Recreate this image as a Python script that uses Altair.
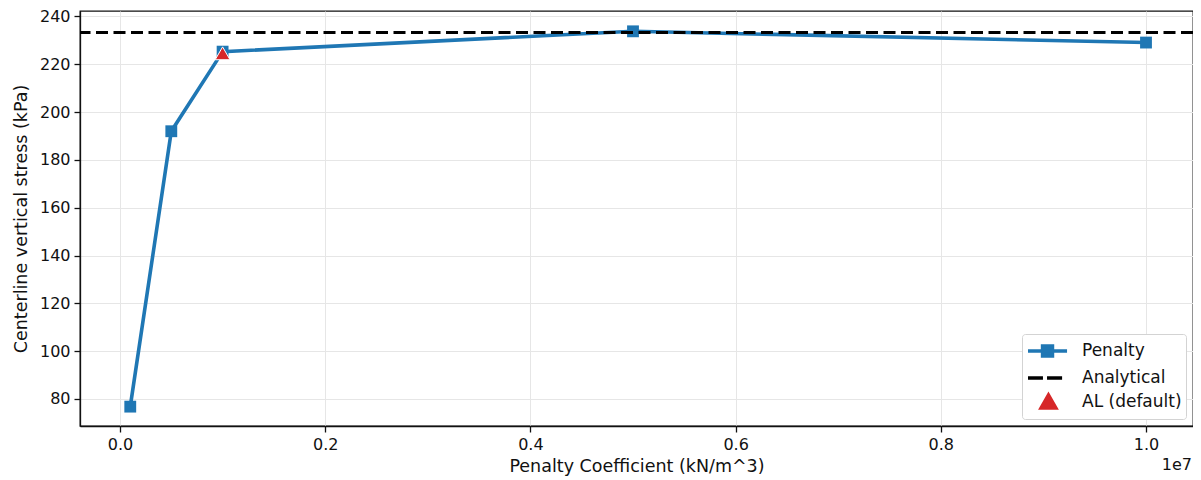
import altair as alt
import pandas as pd

# Data
penalty_x = [1e5, 5e5, 1e6, 5e6, 1e7]
penalty_y = [76.8, 192.0, 225.3, 233.8, 229.1]
analytical_y = [233.3]
al_x = [1e6]
al_y = [224.6]
series_names = ["Penalty", "Analytical", "AL (default)"]
series_colors = ["#1f77b4", "#000000", "#d62728"]
x_ticks = [0, 2e6, 4e6, 6e6, 8e6, 1e7]
y_ticks = [80, 100, 120, 140, 160, 180, 200, 220, 240]

W, H = 1113, 415
FONT = "DejaVu Sans"
FS = 16
TFS = 17.5
TXT = "#111111"

pen_df = pd.DataFrame({"x": penalty_x, "y": penalty_y, "series": "Penalty"})
ana_df = pd.DataFrame({"y": analytical_y, "series": "Analytical"})
al_df = pd.DataFrame({"x": al_x, "y": al_y, "series": "AL (default)"})

xscale = alt.Scale(domain=[-389864, 10458089], nice=False, zero=False)
yscale = alt.Scale(domain=[68.7, 242.3], nice=False, zero=False)

xaxis = alt.Axis(values=x_ticks, labelExpr="format(datum.value/1e7, '.1f')",
                 title="Penalty Coefficient (kN/m^3)", titlePadding=5)
yaxis = alt.Axis(values=y_ticks, title="Centerline vertical stress (kPa)", titlePadding=9)

penalty = alt.Chart(pen_df).mark_line(
    color="#1f77b4", strokeWidth=3.6,
    point=alt.OverlayMarkDef(shape="square", size=140, filled=True, color="#1f77b4", opacity=1)
).encode(
    x=alt.X("x:Q", scale=xscale, axis=xaxis),
    y=alt.Y("y:Q", scale=yscale, axis=yaxis),
)

analytical = alt.Chart(ana_df).mark_rule(
    color="black", strokeWidth=3, strokeDash=[12, 5.5]
).encode(y=alt.Y("y:Q", scale=yscale))

legend_paths = [
    "M-1.0,0H2.55M0.32,-0.45H1.23V0.45H0.32Z",
    "M-1.0,0H0.36M0.73,0H2.1",
    "M0.18,0.55L1.54,0.55L0.86,-0.65Z",
]

cscale = alt.Scale(domain=series_names, range=series_colors)
legend_layer = alt.Chart(al_df).mark_point(
    filled=True, size=10, opacity=1, strokeWidth=0
).encode(
    x=alt.X("x:Q", scale=xscale),
    y=alt.Y("y:Q", scale=yscale),
    color=alt.Color("series:N", scale=cscale,
                    legend=alt.Legend(
                        title=None, orient="bottom-right", offset=7,
                        symbolSize=484, symbolStrokeWidth=3.4, symbolOpacity=1,
                        labelFontSize=17, labelFont=FONT, labelColor=TXT,
                        labelOffset=30, rowPadding=2, padding=4,
                        fillColor="white", strokeColor="#d3d3d3", cornerRadius=3,
                    )),
    stroke=alt.Stroke("series:N", scale=cscale),
    shape=alt.Shape("series:N", scale=alt.Scale(domain=series_names, range=legend_paths)),
)

al = alt.Chart(al_df).mark_point(
    filled=True, size=220, opacity=1, shape="triangle-up",
    fill="#d62728", stroke="white", strokeWidth=1
).encode(
    x=alt.X("x:Q", scale=xscale),
    y=alt.Y("y:Q", scale=yscale),
)

exp_label = alt.Chart(pd.DataFrame({"t": ["1e7"]})).mark_text(
    font=FONT, fontSize=FS, color=TXT, align="right", baseline="middle"
).encode(x=alt.value(W - 1), y=alt.value(H + 39), text="t:N")

chart = alt.layer(penalty, analytical, legend_layer, al, exp_label).properties(
    width=W, height=H,
    autosize=alt.AutoSizeParams(type="none"),
    padding={"left": 72, "top": 3, "right": 0, "bottom": 50},
).configure_view(stroke=TXT, strokeWidth=1.3).configure_axis(
    labelFont=FONT, titleFont=FONT, labelFontSize=FS, titleFontSize=TFS,
    labelColor=TXT, titleColor=TXT, titleFontWeight="normal",
    domainColor=TXT, tickColor=TXT, tickSize=6, domainWidth=1.3, tickWidth=1.3,
    gridColor="#e6e6e6", gridWidth=1, labelPadding=4,
)

chart.save("out.html", embed_options={"renderer": "svg", "actions": False})
